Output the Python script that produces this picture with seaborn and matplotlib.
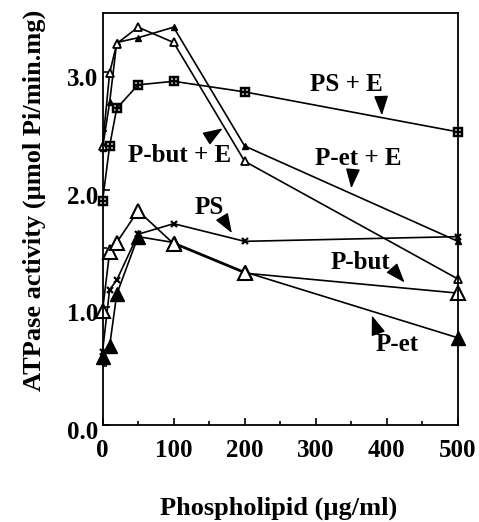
import numpy as np
import pandas as pd
import matplotlib
matplotlib.use("Agg")
import matplotlib.pyplot as plt
import matplotlib.transforms as mtransforms
import seaborn as sns

# Phospholipid concentration (ug/ml)
conc = [0, 10, 20, 50, 100, 200, 500]

# ATPase activity (umol Pi/min.mg) per phospholipid
ps_e = [1.90, 2.37, 2.69, 2.89, 2.92, 2.83, 2.49]
pbut_e = [2.37, 2.99, 3.24, 3.38, 3.25, 2.24, 1.24]
pet_e = [2.35, 2.74, 3.25, 3.29, 3.38, 2.37, 1.56]
ps = [0.62, 1.15, 1.23, 1.62, 1.71, 1.56, 1.60]
pbut = [0.97, 1.47, 1.55, 1.82, 1.54, 1.29, 1.12]
pet = [0.58, 0.67, 1.11, 1.60, 1.55, 1.30, 0.74]

labels = ["PS + E", "P-but + E", "P-et + E", "PS", "P-but", "P-et"]
label_pos = [(343, 2.89), (109, 2.29), (360, 2.26), (150, 1.85), (363, 1.38), (414, 0.68)]
arrow_tail = [(392, 2.78), (148, 2.44), (352, 2.15), (169, 1.76), (409, 1.32), (386, 0.81)]
arrow_tip = [(393, 2.63), (169, 2.52), (350, 2.01), (182, 1.63), (425, 1.21), (379, 0.93)]

sns.set_theme(style="ticks")
plt.rcParams["font.family"] = ["Liberation Serif", "DejaVu Serif"]
plt.rcParams["font.weight"] = "bold"
plt.rcParams["text.color"] = "black"
plt.rcParams["axes.labelcolor"] = "black"
plt.rcParams["xtick.color"] = "black"
plt.rcParams["ytick.color"] = "black"

fig = plt.figure(figsize=(4.79, 5.22), dpi=100)
ax = fig.add_axes([0.214, 0.186, 0.742, 0.789])

line_kw = dict(color="black", lw=1.2, clip_on=False)

# draw filled before open so open triangles sit on top
sns.lineplot(x=conc, y=ps_e, ax=ax, marker=r"$\boxplus$", markersize=7,
             mec="black", mfc="black", mew=0.3, **line_kw)
sns.lineplot(x=conc, y=pet_e, ax=ax, marker="^", markersize=4.5,
             mec="black", mfc="black", mew=1, **line_kw)
sns.lineplot(x=conc, y=pbut_e, ax=ax, marker="^", markersize=6,
             mec="black", mfc="white", mew=1.3, **line_kw)
sns.lineplot(x=conc, y=ps, ax=ax, marker="x", markersize=5,
             mec="black", mew=1.6, **line_kw)
sns.lineplot(x=conc, y=pet, ax=ax, marker="^", markersize=10.5,
             mec="black", mfc="black", mew=1, **line_kw)
sns.lineplot(x=conc, y=pbut, ax=ax, marker="^", markersize=10.5,
             mec="black", mfc="white", mew=1.5, **line_kw)

ax.set_xlim(0, 500)
ax.set_ylim(0, 3.5)
ax.set_xticks([0, 100, 200, 300, 400, 500])
ax.set_xticks(np.arange(50, 500, 100), minor=True)
ax.set_yticks([0, 1, 2, 3])
ax.set_yticks([0.5, 1.5, 2.5], minor=True)
ax.set_yticklabels(["0.0", "1.0", "2.0", "3.0"])
ax.tick_params(axis="both", which="major", direction="in", length=5, width=1.2,
               labelsize=18, colors="black")
ax.tick_params(axis="both", which="minor", direction="in", length=3, width=1.2)
ax.tick_params(axis="x", which="major", pad=10)
ax.tick_params(axis="y", which="major", pad=3)
for sp in ax.spines.values():
    sp.set_linewidth(1.3)
    sp.set_color("black")

# y tick labels sit a little below their ticks in the original
offset = mtransforms.ScaledTranslation(0, -5 / 100, fig.dpi_scale_trans)
for lbl in ax.get_yticklabels():
    lbl.set_transform(lbl.get_transform() + offset)
for lbl in ax.get_xticklabels() + ax.get_yticklabels():
    lbl.set_fontweight("bold")

ax.set_xlabel("Phospholipid (\u00b5g/ml)", fontsize=19, fontweight="bold")
ax.set_ylabel("ATPase activity (\u00b5mol Pi/min.mg)", fontsize=19, fontweight="bold")
ax.xaxis.set_label_coords(0.495, -0.175)
ax.yaxis.set_label_coords(-0.16, 0.545)

for text, pos, tail, tip in zip(labels, label_pos, arrow_tail, arrow_tip):
    ax.text(pos[0], pos[1], text, fontsize=18, fontweight="bold",
            ha="center", va="center")
    ax.annotate("", xy=tip, xytext=tail,
                arrowprops=dict(arrowstyle="-|>,head_length=1.1,head_width=0.4",
                                color="black", lw=1, shrinkA=0, shrinkB=0,
                                mutation_scale=11))

fig.savefig("out.png", dpi=100)
